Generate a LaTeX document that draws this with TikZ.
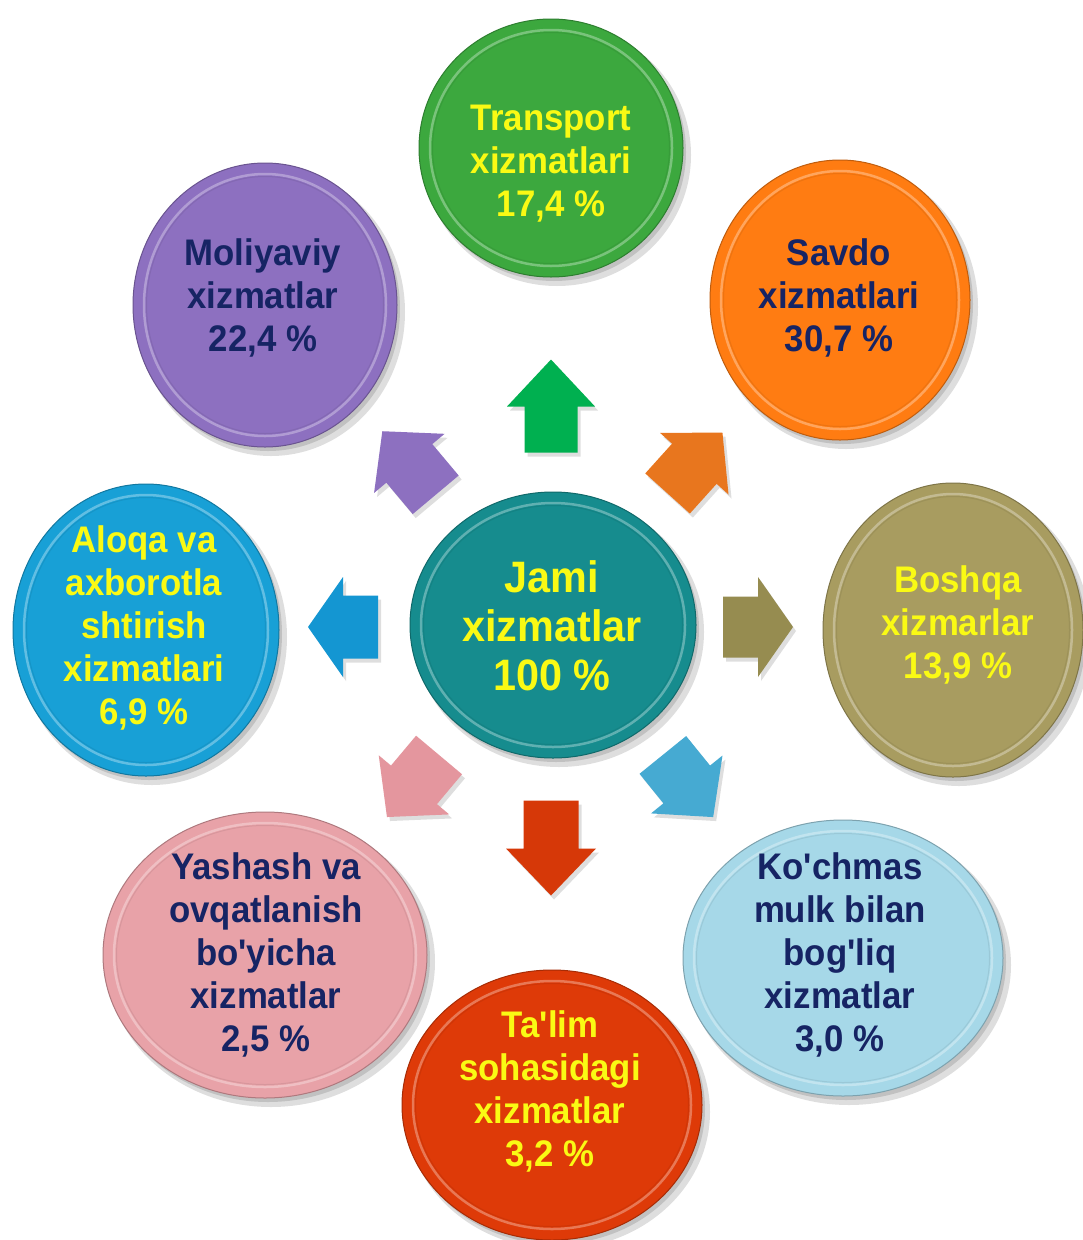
\documentclass[tikz,border=0pt]{standalone}
\usepackage{fontspec}
\setmainfont{Liberation Sans}
\newfontfamily\labfont{Liberation Sans}[FakeStretch=0.94]
\usetikzlibrary{shapes.geometric}
\definecolor{cgreen}{RGB}{60,168,62}
\definecolor{corange}{RGB}{255,124,18}
\definecolor{cpurple}{RGB}{141,112,192}
\definecolor{colive}{RGB}{168,156,96}
\definecolor{cblue}{RGB}{24,160,214}
\definecolor{cteal}{RGB}{22,140,142}
\definecolor{cpink}{RGB}{232,162,168}
\definecolor{clblue}{RGB}{166,216,232}
\definecolor{cred}{RGB}{222,58,8}
\definecolor{ytext}{RGB}{250,250,20}
\definecolor{ntext}{RGB}{22,36,100}
\definecolor{agreen}{RGB}{0,176,80}
\definecolor{apurple}{RGB}{141,112,192}
\definecolor{aorange}{RGB}{232,118,30}
\definecolor{ablue}{RGB}{20,150,210}
\definecolor{aolive}{RGB}{150,140,80}
\definecolor{apink}{RGB}{228,150,158}
\definecolor{alblue}{RGB}{70,170,210}
\definecolor{ared}{RGB}{214,56,8}
\tikzset{
  lbl/.style={align=center, inner sep=0pt, font=\labfont\bfseries\fontsize{37}{43}\selectfont},
  lblbig/.style={align=center, inner sep=0pt, font=\labfont\bfseries\fontsize{44}{49}\selectfont},
  bubblebody/.style={ellipse, inner sep=0pt, line width=1pt},
  shadowfill/.style={fill=black, opacity=0.13},
}
% #1 name, #2 x, #3 y, #4 rx, #5 ry, #6 colour
\newcommand\bubble[6]{%
  \fill[shadowfill] (#2+6,#3+7) ellipse [x radius=#4+2, y radius=#5+2];
  \fill[shadowfill] (#2+3,#3+4) ellipse [x radius=#4, y radius=#5];
  \node[bubblebody, minimum width=2*#4, minimum height=2*#5, fill=#6, draw=#6!75!black] (#1) at (#2,#3) {};
  \draw[#6!55!white, line width=2.5pt, opacity=0.7] (#1.center) ellipse [x radius=#4-11, y radius=#5-11];
  \draw[#6!80!black, line width=1pt, opacity=0.35] (#1.center) ellipse [x radius=#4-13.5, y radius=#5-13.5];
}
% #1 x, #2 y, #3 angle, #4 length, #5 head length, #6 head width, #7 shaft width, #8 colour
\newcommand\blockarrow[8]{%
  \begin{scope}[shift={(#1+3,#2+4)}, rotate=#3]
    \fill[shadowfill] (-#4/2,-#7/2) -- ({#4/2-#5},-#7/2) -- ({#4/2-#5},-#6/2) -- (#4/2,0)
      -- ({#4/2-#5},#6/2) -- ({#4/2-#5},#7/2) -- (-#4/2,#7/2) -- cycle;
  \end{scope}
  \begin{scope}[shift={(#1,#2)}, rotate=#3]
    \fill[#8] (-#4/2,-#7/2) -- ({#4/2-#5},-#7/2) -- ({#4/2-#5},-#6/2) -- (#4/2,0)
      -- ({#4/2-#5},#6/2) -- ({#4/2-#5},#7/2) -- (-#4/2,#7/2) -- cycle;
  \end{scope}
}
\begin{document}
\begin{tikzpicture}[x=1pt,y=-1pt]
\useasboundingbox (0,0) rectangle (1083,1240);
\fill[white] (0,0) rectangle (1083,1240);

% outer circles
\bubble{transport}{551}{148}{132}{129}{cgreen}
\bubble{savdo}{840}{300}{130}{140}{corange}
\bubble{moliya}{265}{305}{132}{142}{cpurple}
\bubble{aloqa}{146}{630}{133}{146}{cblue}
\bubble{boshqa}{953}{630}{130}{147}{colive}
\bubble{yashash}{265}{955}{162}{143}{cpink}
\bubble{kochmas}{843}{958}{160}{138}{clblue}
\bubble{talim}{552}{1105}{150}{135}{cred}
% centre circle
\bubble{jami}{553}{625}{143}{133}{cteal}

% arrows
\blockarrow{551}{406}{90}{93}{47}{88}{53}{agreen}
\blockarrow{551}{848}{-90}{95}{47}{90}{55}{ared}
\blockarrow{343}{627}{180}{70}{35}{100}{63}{ablue}
\blockarrow{758}{627}{0}{70}{35}{100}{61}{aolive}
\blockarrow{409}{463}{130}{83}{42}{92}{60}{apurple}
\blockarrow{695}{463}{48}{82}{42}{92}{60}{aorange}
\blockarrow{413}{786}{230}{81}{42}{92}{60}{apink}
\blockarrow{688}{786}{-51}{80}{42}{92}{60}{alblue}

% labels
\node[lbl, text=ytext] (transportT) at (551,164) {Transport\\xizmatlari\\17,4 \%};
\node[lbl, text=ntext] (savdoT) at (839,298) {Savdo\\xizmatlari\\30,7 \%};
\node[lbl, text=ntext] (moliyaT) at (263,298) {Moliyaviy\\xizmatlar\\22,4 \%};
\node[lbl, text=ytext] (aloqaT) at (144,628) {Aloqa va\\axborotla\\shtirish\\xizmatlari\\6,9 \%};
\node[lbl, text=ytext] (boshqaT) at (958,625) {Boshqa\\xizmarlar\\13,9 \%};
\node[lbl, text=ntext] (yashashT) at (266,955) {Yashash va\\ovqatlanish\\bo'yicha\\xizmatlar\\2,5 \%};
\node[lbl, text=ntext] (kochmasT) at (840,955) {Ko'chmas\\mulk bilan\\bog'liq\\xizmatlar\\3,0 \%};
\node[lbl, text=ytext] (talimT) at (550,1091) {Ta'lim\\sohasidagi\\xizmatlar\\3,2 \%};
\node[lblbig, text=ytext] (jamiT) at (552,626) {Jami\\xizmatlar\\100 \%};
\end{tikzpicture}
\end{document}
